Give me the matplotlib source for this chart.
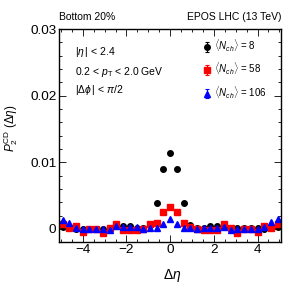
import matplotlib.pyplot as plt
import numpy as np

plt.rcParams['font.family'] = ['Liberation Sans', 'DejaVu Sans']
plt.rcParams['mathtext.fontset'] = 'custom'
plt.rcParams['mathtext.rm'] = 'Liberation Sans'
plt.rcParams['mathtext.it'] = 'Liberation Sans:italic'
plt.rcParams['mathtext.sf'] = 'Liberation Sans'

# bin centres in delta eta (33 bins)
deta = np.arange(-16, 17) * (10.154 / 33)

# <N_ch> = 8
p2_n8 = [0.00025, 0.0001, 0.0, 0.0, 0.0, 0.0, 0.00005, 0.0002, 0.00045, 0.00045,
         0.00045, 0.0002, 0.0001, 0.00055, 0.00395, 0.00895, 0.01145, 0.00895, 0.00395,
         0.00055, 0.0001, 0.0001, 0.00045, 0.00045, 0.00025, 0.0001, 0.0002, 0.0001,
         0.0001, 0.0001, 0.0, 0.0001, 0.00025]
# <N_ch> = 58
p2_n58 = [0.00075, 0.0001, 0.00045, -0.0005, 0.0, 0.0, -0.00055, 0.00015, 0.0008, -0.00015,
          -0.00015, -0.00015, 0.0, 0.0008, 0.0009, 0.0025, 0.00325, 0.0025, 0.0009,
          0.00025, 0.0, -0.00015, -0.00015, -0.00015, 0.0008, 0.00015, -0.00055, 0.0,
          0.0, -0.0005, 0.00045, 0.0001, 0.00075]
# <N_ch> = 106
p2_n106 = [0.0013, 0.00095, 0.0001, 0.0, 0.0, 0.0, 0.0, -0.0002, 0.0004, 0.00025,
           0.00025, 0.00025, 0.0, 0.0002, 0.0002, 0.0008, 0.0015, 0.0008, 0.0001,
           0.0001, 0.00005, 0.0002, 0.0002, 0.0002, 0.00035, -0.0002, 0.0, 0.0,
           0.0, 0.0, 0.00035, 0.001, 0.00145]

labels = [r'$\langle N_{ch}\rangle$ = 8', r'$\langle N_{ch}\rangle$ = 58',
          r'$\langle N_{ch}\rangle$ = 106']

fig = plt.figure(figsize=(2.99, 2.88), dpi=100)
ax = fig.add_axes([0.198, 0.161, 0.742, 0.738])

styles = [('k', 'o', 4.0), ('r', 's', 3.8), ('b', '^', 4.0)]
handles = []
for ys, (c, m, ms) in zip([p2_n8, p2_n58, p2_n106], styles):
    ax.plot(deta, ys, ls='none', marker=m, color=c, ms=ms, mec=c)
    # legend entry with error bar
    h = ax.errorbar([np.nan], [np.nan], yerr=[1.0], fmt=m, color=c, ms=ms,
                    capsize=1.5, elinewidth=0.8, capthick=0.8)
    handles.append(h)

ax.set_xlim(-5.077, 5.077)
ax.set_ylim(-0.0019, 0.03)
ax.set_xticks([-4, -2, 0, 2, 4])
ax.set_xticklabels(['\u22124', '\u22122', '0', '2', '4'])
ax.set_xticks(np.arange(-5, 5.01, 0.5), minor=True)
ax.set_yticks([0, 0.01, 0.02, 0.03])
ax.set_yticklabels(['0', '0.01', '0.02', '0.03'])
ax.set_yticks(np.arange(0, 0.0301, 0.002), minor=True)
ax.tick_params(which='both', direction='in', top=True, right=True, labelsize=9.7, pad=2)
ax.tick_params(which='major', length=5, width=0.6)
ax.tick_params(which='minor', length=2.5, width=0.6)
for s in ax.spines.values():
    s.set_linewidth(1.0)

ax.set_xlabel(r'$\Delta\eta$', fontsize=10)
ax.xaxis.set_label_coords(0.51, -0.12)
ax.set_ylabel(r'$P_2^{\rm CD}$ ($\Delta\eta$)', fontsize=8.5)
ax.yaxis.set_label_coords(-0.177, 0.532)

leg = ax.legend(handles, labels, loc='upper right', frameon=False, fontsize=7,
                handlelength=0.7, handletextpad=0.4, labelspacing=0.75,
                bbox_to_anchor=(0.968, 0.99), borderaxespad=0.3)

ax.text(0.071, 0.893, r'$|\eta\,|$ < 2.4', transform=ax.transAxes, fontsize=7.5, va='center')
ax.text(0.071, 0.80, r'0.2 < $p_{\rm T}$ < 2.0 GeV', transform=ax.transAxes, fontsize=7.5, va='center')
ax.text(0.071, 0.713, r'$|\Delta\phi\,|$ < $\pi$/2', transform=ax.transAxes, fontsize=7.5, va='center')

fig.text(0.198, 0.941, 'Bottom 20%', fontsize=7.5, va='center')
fig.text(0.94, 0.941, 'EPOS LHC (13 TeV)', fontsize=7.5, va='center', ha='right')

fig.savefig('out.png', dpi=100)
